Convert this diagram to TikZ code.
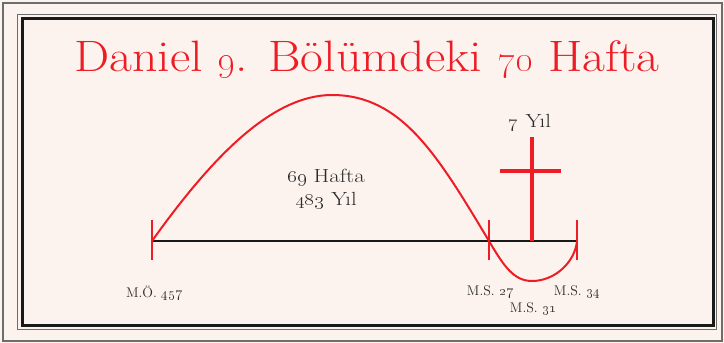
\documentclass[tikz,border=0pt]{standalone}
\usepackage{graphicx}
\usepackage{tikz}
\usetikzlibrary{positioning, calc}

\definecolor{paper}{HTML}{FCF3EE}
\definecolor{redline}{HTML}{EE1C25}
\definecolor{ink}{HTML}{2B2B2B}
\definecolor{framegray}{HTML}{6D6D6D}

% wider setting of a text, as the display face of the picture
\newcommand{\widetext}[2]{\scalebox{#1}[1]{#2}}

\begin{document}
\begin{tikzpicture}[x=1pt, y=-1pt,
        % Define styles for the timeline parts
        tick/.style={draw=redline, line width=2pt},
        cross/.style={draw=redline, line width=4pt},
        wave/.style={draw=redline, line width=2pt},
        axis/.style={draw=black!90, line width=2pt},
        datelabel/.style={text=ink, font=\fontsize{14}{16}\selectfont, inner sep=0pt},
        span/.style={text=ink, font=\fontsize{19}{22}\selectfont, align=center, inner sep=0pt}
    ]
    
    % --- PAGE & FRAMES ---
    \fill[paper] (0,0) rectangle (724,343);
    \useasboundingbox (0,0) rectangle (724,343);
    \draw[framegray, line width=2pt] (2.5,2.5) rectangle (721.5,340.5);
    \draw[framegray, line width=1pt] (17.5,14.5) rectangle (716.5,329.5);
    \draw[black!90, line width=3pt] (22,18) rectangle (713.5,325.5);
    
    % --- TITLE ---
    \node[text=redline, font=\fontsize{44}{50}\selectfont, inner sep=0pt] (title) at (367,60)
        {\widetext{1.13}{Daniel \oldstylenums{9}. Bölümdeki \oldstylenums{70} Hafta}};
    
    % --- TIMELINE POINTS ---
    \coordinate (start) at (152,241);
    \coordinate (ms27) at (489,241);
    \coordinate (ms31) at (532,241);
    \coordinate (ms34) at (577,241);
    \coordinate (peak) at (332,95);
    \coordinate (dip) at (532,281);
    
    % Base line
    \draw[axis] (start) -- (ms34);
    
    % Red ticks
    \foreach \p in {start, ms27, ms34}
        \draw[tick] ([yshift=-19pt]\p) -- ([yshift=21pt]\p);
    
    % Cross on M.S. 31
    \coordinate (crosstop) at (532,137);
    \draw[cross] (crosstop) -- (ms31);
    \draw[cross] (500,171) -- (561,171);
    
    % Wave over the weeks
    \draw[wave] (start) .. controls (212,157) and (272,95) .. (peak)
        .. controls (402,95) and (438,156) .. (ms27)
        .. controls (504,266.5) and (514,281) .. (dip)
        .. controls (555,281) and (575,262) .. (ms34);
    
    % --- LABELS ---
    \node[span] (weeks) at (326,189) {\widetext{1.2}{\oldstylenums{69} Hafta}\\[1pt] \widetext{1.2}{\oldstylenums{483} Yıl}};
    \node[span] (seven) at (530,123) {\widetext{1.2}{\oldstylenums{7} Yıl}};
    
    \node[datelabel] (l457) at (154,293) {M.Ö. \oldstylenums{457}};
    \node[datelabel] (l27) at (490,292) {M.S. \oldstylenums{27}};
    \node[datelabel] (l34) at (577,292) {M.S. \oldstylenums{34}};
    \node[datelabel] (l31) at (533,309) {M.S. \oldstylenums{31}};
    
\end{tikzpicture}
\end{document}
